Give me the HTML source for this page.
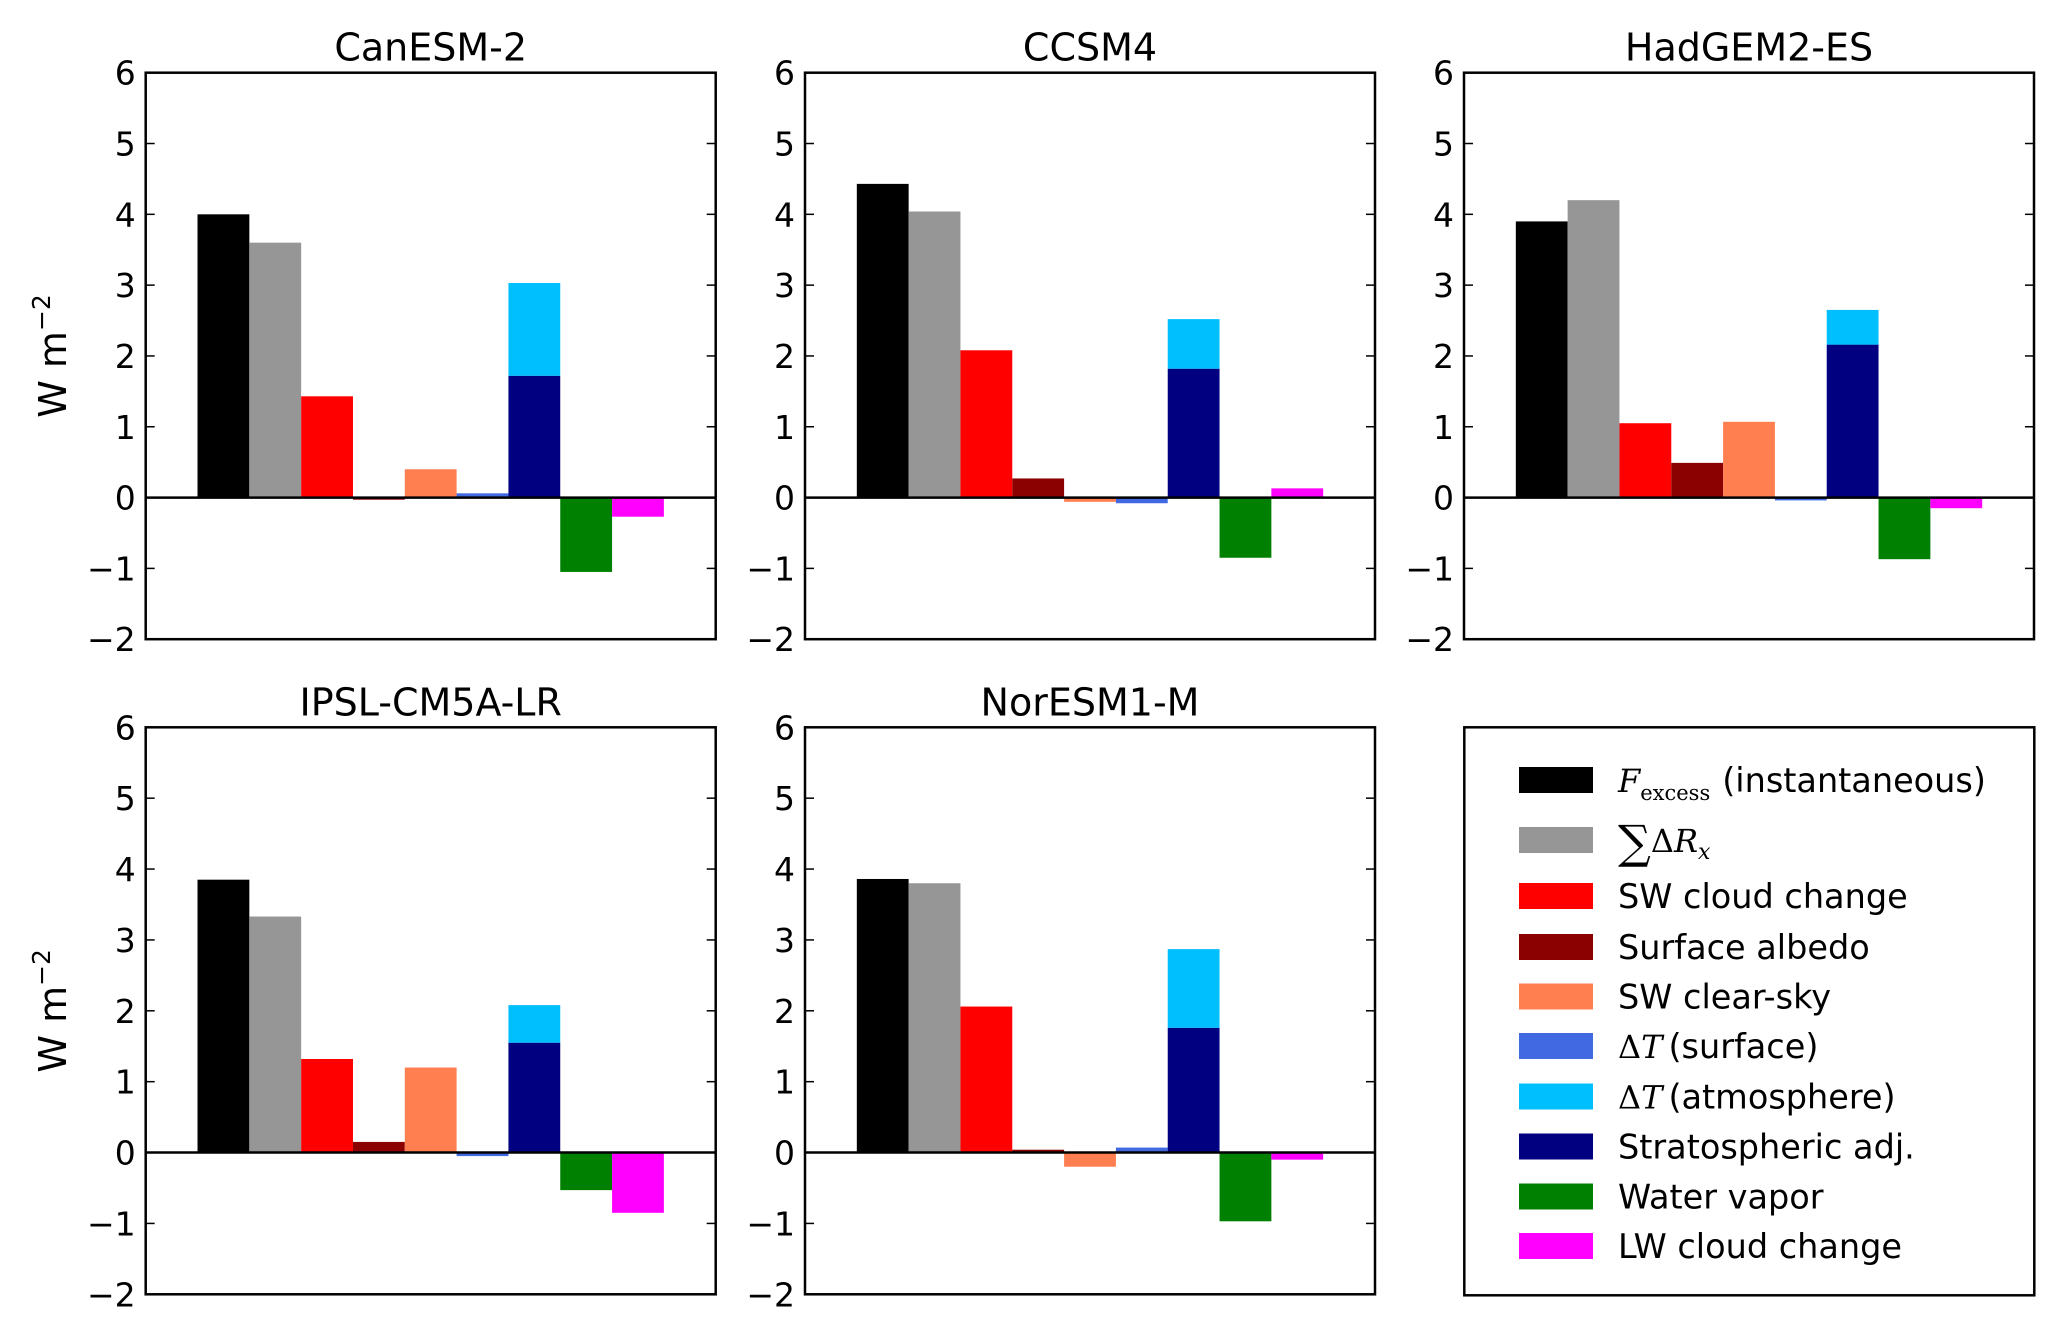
<!DOCTYPE html>
<html><head><meta charset="utf-8">
<style>
html,body{margin:0;padding:0;background:#fff;}
svg{display:block;font-family:"DejaVu Sans","Liberation Sans",sans-serif;}
</style></head>
<body>
<svg id="fig" width="2066" height="1343" viewBox="0 0 2066 1343" xmlns="http://www.w3.org/2000/svg"></svg>
<script>
const models = ["CanESM-2","CCSM4","HadGEM2-ES","IPSL-CM5A-LR","NorESM1-M"];
const fExcess   = [4.00, 4.43, 3.90, 3.85, 3.86];
const sumDR     = [3.60, 4.04, 4.20, 3.33, 3.80];
const swCloud   = [1.43, 2.08, 1.05, 1.32, 2.06];
const albedo    = [-0.03, 0.27, 0.49, 0.15, 0.04];
const swClear   = [0.40, -0.06, 1.07, 1.20, -0.20];
const dTsurf    = [0.06, -0.08, -0.04, -0.05, 0.07];
const strat     = [1.72, 1.82, 2.16, 1.55, 1.76];
const dTatm     = [1.31, 0.70, 0.49, 0.53, 1.11];
const waterVap  = [-1.05, -0.85, -0.87, -0.53, -0.97];
const lwCloud   = [-0.27, 0.13, -0.15, -0.85, -0.10];
const yTicks = [6,5,4,3,2,1,0,-1,-2];
const tickLabels = ["6","5","4","3","2","1","0","\u22121","\u22122"];
const legendLabels = ["(instantaneous)","","SW cloud change","Surface albedo","SW clear-sky","(surface)","(atmosphere)","Stratospheric adj.","Water vapor","LW cloud change"];
const colors = ["#000000","#969696","#ff0000","#8b0000","#ff7f50","#4169e1","#00bfff","#000080","#008000","#ff00ff"];

const NS="http://www.w3.org/2000/svg";
const svg=document.getElementById('fig');
function mk(tag,attrs,parent){const e=document.createElementNS(NS,tag);for(const k in attrs)e.setAttribute(k,attrs[k]);(parent||svg).appendChild(e);return e;}

const panels=[{x:145.7,y:72.7,h:566.5},{x:805,y:72.7,h:566.5},{x:1464,y:72.7,h:566.5},{x:145.7,y:727.3,h:567},{x:805,y:727.3,h:567}];
const W=570;

panels.forEach((p,m)=>{
  const g=mk('g',{});
  
  
  const yS=v=>p.y+(6-v)/8*p.h;
  const xS=u=>p.x+(u+1)/11*W;
  const bw=W/11;
  function bar(i,v0,v1,c,name){
    const r=mk('rect',{x:xS(i),y:Math.min(yS(v0),yS(v1)),width:bw,height:Math.abs(yS(v1)-yS(v0)),fill:c},g);
    
    
  }
  bar(0,0,fExcess[m],colors[0],'bar-f-excess');
  bar(1,0,sumDR[m],colors[1],'bar-sum-delta-r');
  bar(2,0,swCloud[m],colors[2],'bar-sw-cloud');
  bar(3,0,albedo[m],colors[3],'bar-surface-albedo');
  bar(4,0,swClear[m],colors[4],'bar-sw-clear-sky');
  bar(5,0,dTsurf[m],colors[5],'bar-dt-surface');
  bar(6,0,strat[m],colors[7],'bar-stratospheric');
  bar(6,strat[m],strat[m]+dTatm[m],colors[6],'bar-dt-atmosphere');
  bar(7,0,waterVap[m],colors[8],'bar-water-vapor');
  bar(8,0,lwCloud[m],colors[9],'bar-lw-cloud');
  const z=mk('line',{x1:p.x,x2:p.x+W,y1:yS(0),y2:yS(0),stroke:'#000','stroke-width':2.5},g);
  
  
  yTicks.forEach((t,i)=>{
    const y=yS(t);
    mk('line',{x1:p.x,x2:p.x+9,y1:y,y2:y,stroke:'#000','stroke-width':1.5},g);
    mk('line',{x1:p.x+W-9,x2:p.x+W,y1:y,y2:y,stroke:'#000','stroke-width':1.5},g);
    const t2=mk('text',{x:p.x-10,y:y+12,'text-anchor':'end','font-size':33},g);
    
    
    t2.textContent=tickLabels[i];
  });
  const fr=mk('rect',{x:p.x,y:p.y,width:W,height:p.h,fill:'none',stroke:'#000','stroke-width':2.5},g);
  
  
  const ti=mk('text',{x:p.x+W/2,y:p.y-12,'text-anchor':'middle','font-size':38},g);
  
  
  ti.textContent=models[m];
  if(m===0||m===3){
    const cy=p.y+p.h/2;
    const yl=mk('text',{x:0,y:0,'text-anchor':'middle','font-size':38,transform:`translate(66,${cy}) rotate(-90)`},g);
    
    
    yl.innerHTML='W m<tspan font-size="25" dy="-16">\u22122</tspan>';
  }
});

// legend
const lg=mk('g',{});


const lb=mk('rect',{x:1464.3,y:727.3,width:570,height:568,fill:'#fff',stroke:'#000','stroke-width':2.5},lg);


const rowsY=[780,840,896,947,996.5,1046,1096.5,1146.5,1196.5,1246];
rowsY.forEach((cy,i)=>{
  const e=mk('g',{},lg);
  
  
  mk('rect',{x:1519,y:cy-13,width:74,height:26,fill:colors[i]},e);
  const t=mk('text',{x:1618,y:cy+12,'font-size':33.5},e);
  if(i===0){
    t.innerHTML='<tspan font-family="DejaVu Serif,serif" font-style="italic" font-size="32">F</tspan><tspan font-family="DejaVu Serif,serif" font-size="21" dy="8">excess</tspan><tspan dy="-8" dx="12">(instantaneous)</tspan>';
  } else if(i===1){
    t.innerHTML='<tspan font-family="DejaVu Serif,serif" font-size="46" dy="6">\u2211</tspan><tspan font-family="DejaVu Serif,serif" font-size="32" dy="-6">\u0394</tspan><tspan font-family="DejaVu Serif,serif" font-style="italic" font-size="32">R</tspan><tspan font-family="DejaVu Serif,serif" font-style="italic" font-size="22" dy="7">x</tspan>';
  } else if(i===5||i===6){
    t.innerHTML='<tspan font-family="DejaVu Serif,serif" font-size="32">\u0394</tspan><tspan font-family="DejaVu Serif,serif" font-style="italic" font-size="32">T</tspan><tspan dx="6">'+legendLabels[i]+'</tspan>';
  } else {
    t.textContent=legendLabels[i];
  }
});
</script>
</body></html>
